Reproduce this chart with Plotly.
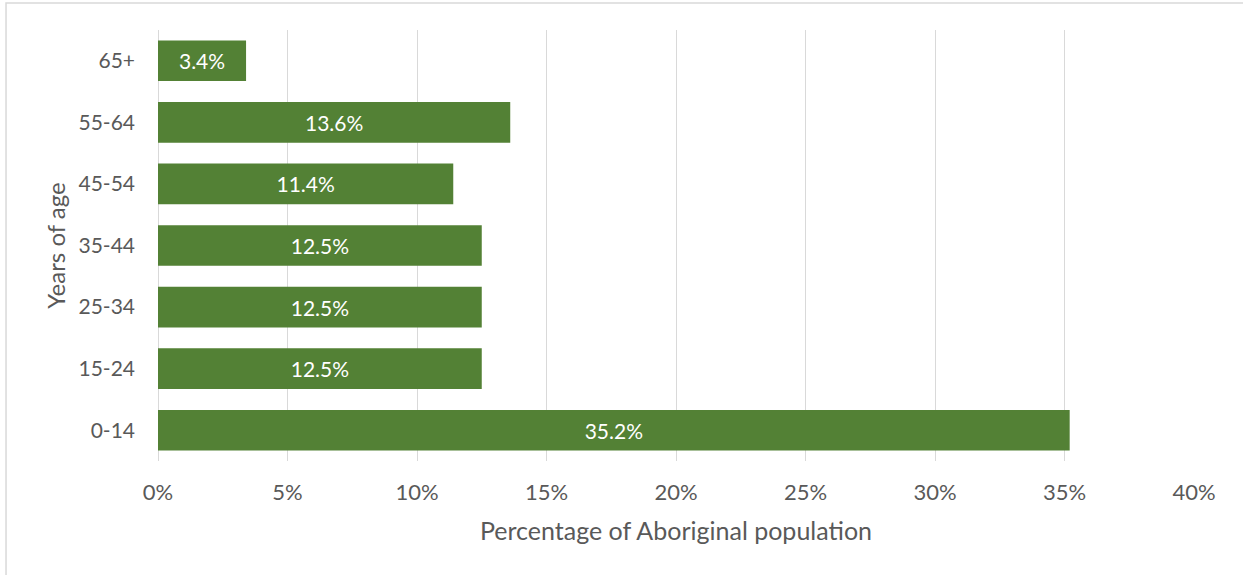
import plotly.graph_objects as go

# Age distribution of the Aboriginal population
age_groups = ["0-14", "15-24", "25-34", "35-44", "45-54", "55-64", "65+"]
share_pct = [35.2, 12.5, 12.5, 12.5, 11.4, 13.6, 3.4]
x_tick_values = [0, 5, 10, 15, 20, 25, 30, 35, 40]
x_tick_labels = ["0%", "5%", "10%", "15%", "20%", "25%", "30%", "35%", "40%"]

BAR_GREEN = "#538135"
TEXT_GREY = "#595959"
GRID_GREY = "#d9d9d9"
FONT = "Lato"

fig = go.Figure(
    go.Bar(
        x=share_pct,
        y=age_groups,
        orientation="h",
        marker=dict(color=BAR_GREEN, line=dict(width=0)),
        text=[f"{v:.1f}%" for v in share_pct],
        textposition="inside",
        insidetextanchor="middle",
        textfont=dict(family=FONT, size=21, color="white"),
        cliponaxis=False,
    )
)

fig.update_layout(
    width=1243,
    height=575,
    margin=dict(l=158, r=49, t=30, b=114),
    paper_bgcolor="white",
    plot_bgcolor="white",
    bargap=0.34,
    showlegend=False,
    uniformtext=dict(minsize=10, mode="show"),
    font=dict(family=FONT, color=TEXT_GREY),
    xaxis=dict(
        range=[0, 40],
        tickvals=x_tick_values,
        ticktext=x_tick_labels,
        showgrid=True,
        gridcolor=GRID_GREY,
        gridwidth=1,
        zeroline=True,
        zerolinecolor=GRID_GREY,
        zerolinewidth=1,
        showline=False,
        ticks="",
        ticklabelstandoff=16,
        tickfont=dict(family=FONT, size=22, color=TEXT_GREY),
        title=dict(
            text="Percentage of Aboriginal population",
            font=dict(family=FONT, size=25, color=TEXT_GREY),
            standoff=18,
        ),
        fixedrange=True,
    ),
    yaxis=dict(
        categoryorder="array",
        categoryarray=age_groups,
        showgrid=False,
        zeroline=False,
        showline=False,
        ticks="",
        ticklabelstandoff=22,
        tickfont=dict(family=FONT, size=21, color=TEXT_GREY),
        title=dict(
            text="Years of age",
            font=dict(family=FONT, size=24, color=TEXT_GREY),
            standoff=6,
        ),
        fixedrange=True,
    ),
    shapes=[
        # chart frame
        dict(
            type="rect",
            xref="paper",
            yref="paper",
            x0=-0.1467,
            x1=1.06,
            y0=-0.3,
            y1=1.0626,
            line=dict(color=GRID_GREY, width=1.5),
            fillcolor="rgba(0,0,0,0)",
            layer="below",
        )
    ],
)

fig.write_html("out.html")
